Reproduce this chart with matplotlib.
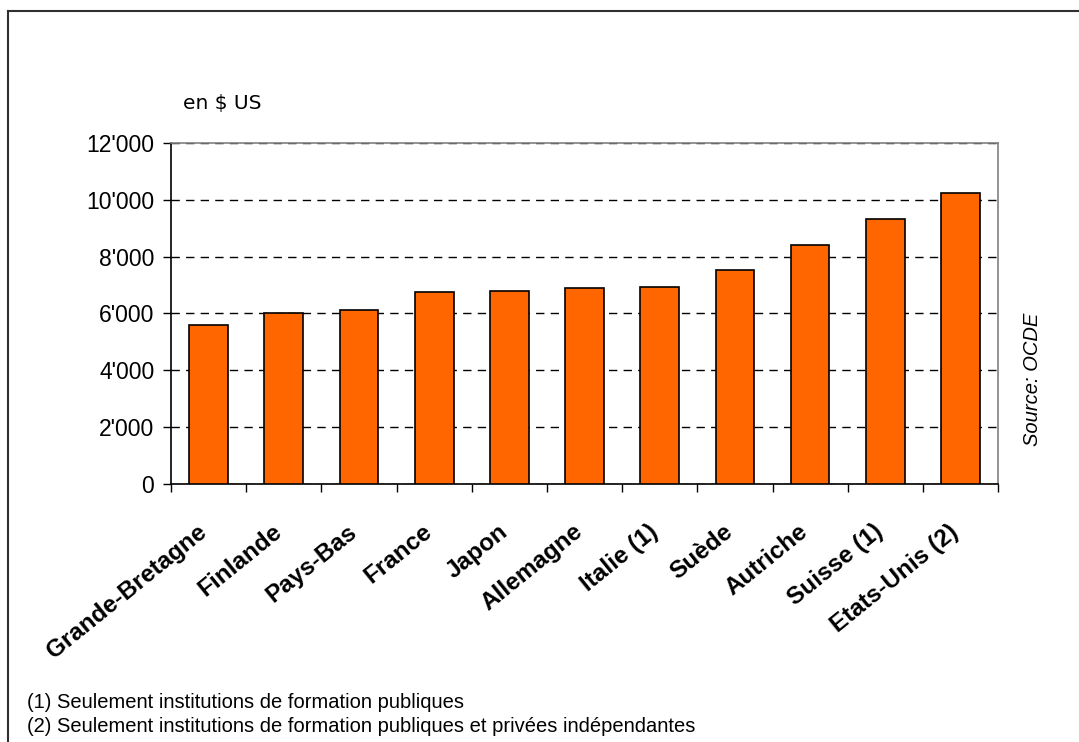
import matplotlib
matplotlib.use("Agg")
import matplotlib.pyplot as plt
from matplotlib.lines import Line2D
from matplotlib.ticker import FuncFormatter
from matplotlib.transforms import ScaledTranslation
import numpy as np

#data
pays = ["Grande-Bretagne", "Finlande", "Pays-Bas", "France", "Japon", "Allemagne",
        "Italie (1)", "Suède", "Autriche", "Suisse (1)", "Etats-Unis (2)"]
depenses = [5590, 6030, 6140, 6740, 6780, 6890, 6940, 7530, 8410, 9320, 10230]
yticks = [0, 2000, 4000, 6000, 8000, 10000, 12000]
notes = ["(1) Seulement institutions de formation publiques",
         "(2) Seulement institutions de formation publiques et privées indépendantes"]

plt.rcParams['font.family'] = ['Liberation Sans', 'DejaVu Sans']

fig = plt.figure(figsize=(10.79, 7.42), dpi=100)
ax = fig.add_axes([0.1585, 0.3477, 0.7665, 0.4596])

ind = np.arange(len(pays))
ax.bar(ind, depenses, 0.515, color='#FF6600', edgecolor='black', linewidth=1.2, zorder=3)

ax.set_xlim(-0.5, len(pays) - 0.5)
ax.set_ylim(0, 12000)

# grid
ax.set_yticks(yticks)
ax.yaxis.set_major_formatter(FuncFormatter(lambda v, p: "{:,.0f}".format(v).replace(",", "'")))
ax.grid(axis='y', color='black', linestyle=(0, (6, 4.5)), linewidth=1, zorder=1)

# ticks on the category borders, labels in the middle
ax.set_xticks(np.arange(len(pays) + 1) - 0.5)
ax.set_xticklabels([])
ax.set_xticks(ind, minor=True)
ax.set_xticklabels(pays, minor=True, rotation=39, ha='right', va='top',
                   rotation_mode='anchor', fontsize=17.5, fontweight='bold')
ax.tick_params(axis='x', which='minor', length=0, pad=26)
ax.tick_params(axis='x', which='major', length=6, width=1, direction='out', color='black')
ax.tick_params(axis='y', length=6, width=1, direction='out', labelsize=16.5, pad=6)

shift = ScaledTranslation(-0.12, 0, fig.dpi_scale_trans)
for lab in ax.get_xticklabels(minor=True):
    lab.set_transform(lab.get_transform() + shift)

for s in ['top', 'right']:
    ax.spines[s].set_color('#808080')
    ax.spines[s].set_linewidth(1.2)
for s in ['left', 'bottom']:
    ax.spines[s].set_color('black')
    ax.spines[s].set_linewidth(1.2)

fig.text(183/1079, 1 - 103/742, "en $ US", fontsize=14.5, family='DejaVu Sans',
         ha='left', va='center')
fig.text(1033/1079, 1 - 379/742, "Source: OCDE", fontsize=14.5, style='italic',
         rotation=90, ha='center', va='center')
fig.text(27/1079, 1 - 703/742, notes[0], fontsize=14.5, ha='left', va='center')
fig.text(27/1079, 1 - 727/742, notes[1], fontsize=14.5, ha='left', va='center')

# outer frame (top and left edges only visible)
fig.add_artist(Line2D([8/1079, 1], [1 - 11/742, 1 - 11/742], transform=fig.transFigure,
                      color='#303030', linewidth=1.5))
fig.add_artist(Line2D([8/1079, 8/1079], [0, 1 - 11/742], transform=fig.transFigure,
                      color='#303030', linewidth=1.5))

plt.savefig("out.png", dpi=100)
